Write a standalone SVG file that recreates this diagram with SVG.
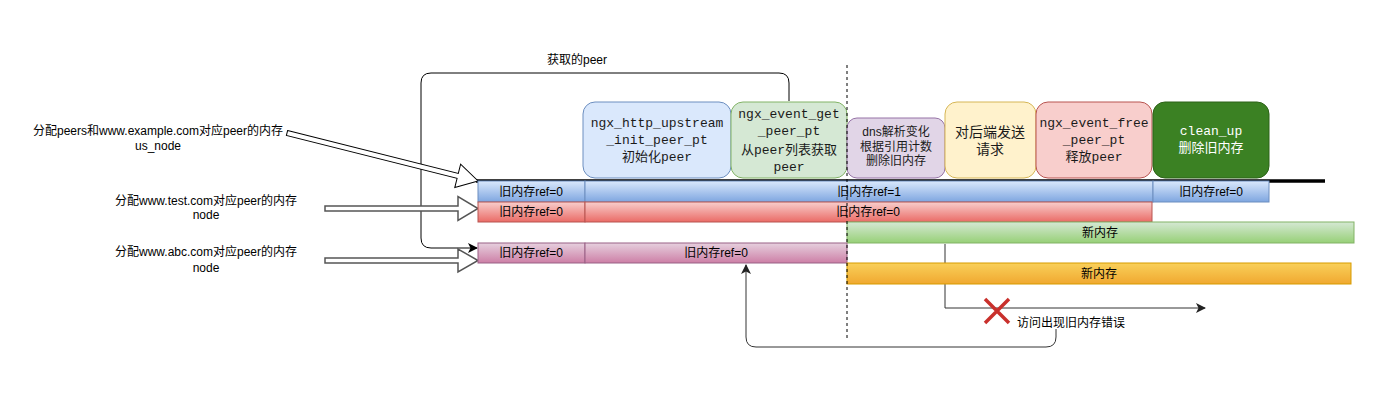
<svg xmlns="http://www.w3.org/2000/svg" width="1380" height="403" viewBox="0 0 1380 403">
<defs>
<linearGradient id="gBlue" x1="0" y1="0" x2="0" y2="1"><stop offset="0" stop-color="#dae8fc"/><stop offset="1" stop-color="#7ea6e0"/></linearGradient>
<linearGradient id="gRed" x1="0" y1="0" x2="0" y2="1"><stop offset="0" stop-color="#f8cecc"/><stop offset="1" stop-color="#ea6b66"/></linearGradient>
<linearGradient id="gGreen" x1="0" y1="0" x2="0" y2="1"><stop offset="0" stop-color="#d5e8d4"/><stop offset="1" stop-color="#97d077"/></linearGradient>
<linearGradient id="gPurple" x1="0" y1="0" x2="0" y2="1"><stop offset="0" stop-color="#e6d0de"/><stop offset="1" stop-color="#cd7fa6"/></linearGradient>
<linearGradient id="gOrange" x1="0" y1="0" x2="0" y2="1"><stop offset="0" stop-color="#f9d05a"/><stop offset="1" stop-color="#f0a830"/></linearGradient>
<marker id="ah" viewBox="0 0 10 10" refX="9" refY="5" markerWidth="10" markerHeight="10" markerUnits="userSpaceOnUse" orient="auto"><path d="M0,0 L10,5 L0,10 L2.5,5 Z" fill="#000"/></marker>
<marker id="ahg" viewBox="0 0 10 10" refX="9" refY="5" markerWidth="10" markerHeight="10" markerUnits="userSpaceOnUse" orient="auto"><path d="M0,0 L10,5 L0,10 L2.5,5 Z" fill="#222"/></marker>
</defs>
<style>
.t{font-family:"Liberation Sans","Noto Sans CJK SC",sans-serif;font-size:12px;fill:#000;text-anchor:middle;dominant-baseline:central}
.m{font-family:"Liberation Mono","DejaVu Sans Mono","Noto Sans CJK SC",monospace;font-size:13px;fill:#1a1a1a;text-anchor:middle;dominant-baseline:central}
.s12{font-family:"Liberation Sans","Noto Sans CJK SC",sans-serif;font-size:12px;fill:#1a1a1a;text-anchor:middle;dominant-baseline:central}
.s14{font-family:"Liberation Sans","Noto Sans CJK SC",sans-serif;font-size:14px;fill:#1a1a1a;text-anchor:middle;dominant-baseline:central}
.bar{stroke-width:1}
.line{fill:none;stroke:#000;stroke-width:1}
.gl{fill:none;stroke:#333;stroke-width:1}
.fa{fill:#fff;stroke:#000;stroke-width:1}
.fag{fill:#fff;stroke:#555;stroke-width:1.5}
</style>

<g id="connectors">
<path class="line" d="M789,101 V83 Q789,73 779,73 H431 Q421,73 421,83 V238 Q421,248 431,248 H477" marker-end="url(#ah)"/>
<path class="gl" d="M945,244 V308 H1205" stroke="#555" marker-end="url(#ahg)"/>
<path class="gl" d="M1056,329 V337 Q1056,347 1046,347 H756 Q746,347 746,337 V265" marker-end="url(#ahg)"/>
<line x1="476" y1="181" x2="1325" y2="181" stroke="#000" stroke-width="3.5"/>
<g transform="translate(287,133) rotate(14.1)"><polygon class="fa" points="0,-2.5 176,-2.5 176,-12 197,0 176,12 176,2.5 0,2.5"/></g>
<polygon class="fag" points="325,206 458,206 458,196.5 478,208.5 458,220.5 458,211 325,211"/>
<polygon class="fag" points="325,258 458,258 458,249 478,260.5 458,272 458,263 325,263"/>
</g>

<g id="label-get"><text class="t" x="577" y="60">获取的peer</text></g>
<g id="label-1"><text class="t" x="158" y="131">分配peers和www.example.com对应peer的内存</text><text class="t" x="158" y="146">us_node</text></g>
<g id="label-2"><text class="t" x="206" y="201">分配www.test.com对应peer的内存</text><text class="t" x="206" y="215">node</text></g>
<g id="label-3"><text class="t" x="206" y="252">分配www.abc.com对应peer的内存</text><text class="t" x="206" y="268">node</text></g>

<g id="node-init"><rect x="583" y="102" width="148" height="76" rx="12" fill="#dae8fc" stroke="#6c8ebf"/>
<text class="m" x="657" y="123">ngx_http_upstream</text><text class="m" x="657" y="140">_init_peer_pt</text><text class="m" x="657" y="157">初始化peer</text></g>
<g id="node-get"><rect x="731" y="102" width="116" height="76" rx="12" fill="#d5e8d4" stroke="#82b366"/>
<text class="m" x="789" y="114">ngx_event_get</text><text class="m" x="789" y="131">_peer_pt</text><text class="m" x="789" y="150">从peer列表获取</text><text class="m" x="789" y="167">peer</text></g>
<g id="node-dns"><rect x="847" y="118" width="98" height="60" rx="10" fill="#e1d5e7" stroke="#9673a6"/>
<text class="s12" x="896" y="132">dns解析变化</text><text class="s12" x="896" y="147">根据引用计数</text><text class="s12" x="896" y="161">删除旧内存</text></g>
<g id="node-send"><rect x="945" y="102" width="91" height="76" rx="12" fill="#fff2cc" stroke="#d6b656"/>
<text class="s14" x="990" y="132">对后端发送</text><text class="s14" x="990" y="149">请求</text></g>
<g id="node-free"><rect x="1036" y="102" width="116" height="76" rx="12" fill="#f8cecc" stroke="#b85450"/>
<text class="m" x="1094" y="123">ngx_event_free</text><text class="m" x="1094" y="140">_peer_pt</text><text class="m" x="1094" y="157">释放peer</text></g>
<g id="node-clean"><rect x="1153" y="102" width="116" height="76" rx="12" fill="#3b8123" stroke="#2d6318"/>
<text class="m" x="1211" y="131" style="fill:#fff">clean_up</text><text class="m" x="1211" y="148" style="fill:#fff">删除旧内存</text></g>

<g id="bar-blue">
<rect class="bar" x="478" y="181" width="107" height="21" fill="url(#gBlue)" stroke="#6c8ebf"/><text class="t" x="531" y="191.5">旧内存ref=0</text>
<rect class="bar" x="585" y="181" width="568" height="21" fill="url(#gBlue)" stroke="#6c8ebf"/><text class="t" x="869" y="191.5">旧内存ref=1</text>
<rect class="bar" x="1153" y="181" width="116" height="21" fill="url(#gBlue)" stroke="#6c8ebf"/><text class="t" x="1211" y="191.5">旧内存ref=0</text>
</g>
<g id="bar-red">
<rect class="bar" x="478" y="202" width="107" height="20" fill="url(#gRed)" stroke="#b85450"/><text class="t" x="531" y="212">旧内存ref=0</text>
<rect class="bar" x="585" y="202" width="567" height="20" fill="url(#gRed)" stroke="#b85450"/><text class="t" x="868" y="212">旧内存ref=0</text>
</g>
<g id="bar-green">
<rect class="bar" x="847" y="222" width="507" height="21" fill="url(#gGreen)" stroke="#82b366"/><text class="t" x="1100" y="232.5">新内存</text>
</g>
<g id="bar-purple">
<rect class="bar" x="478" y="243" width="107" height="20" fill="url(#gPurple)" stroke="#996185"/><text class="t" x="531" y="253">旧内存ref=0</text>
<rect class="bar" x="585" y="243" width="262" height="20" fill="url(#gPurple)" stroke="#996185"/><text class="t" x="716" y="253">旧内存ref=0</text>
</g>
<g id="bar-orange">
<rect class="bar" x="847" y="263" width="504" height="21" fill="url(#gOrange)" stroke="#d79b00"/><text class="t" x="1099" y="273.5">新内存</text>
</g>

<g id="divider">
<line x1="847" y1="65" x2="847" y2="340" stroke="#000" stroke-width="1" stroke-dasharray="3,3"/>
</g>

<g id="error-mark">
<path d="M985,299 L1009,323 M1009,299 L985,323" stroke="#c9302c" stroke-width="3.5" fill="none"/>
<text class="t" x="1017" y="323" style="text-anchor:start">访问出现旧内存错误</text>
</g>
</svg>
